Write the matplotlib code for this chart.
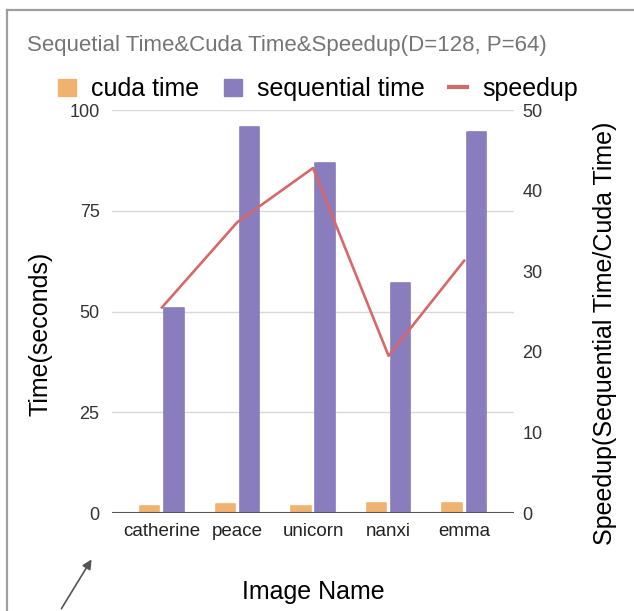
import matplotlib
matplotlib.use("Agg")
import matplotlib.pyplot as plt
from matplotlib.patches import Patch
from matplotlib.lines import Line2D

plt.rcParams['font.family'] = ['Liberation Sans', 'DejaVu Sans']

# data
images = ['catherine', 'peace', 'unicorn', 'nanxi', 'emma']
cuda_time = [1.8, 2.2, 1.8, 2.6, 2.6]
seq_time = [50.8, 95.7, 86.8, 57.1, 94.6]
speedup = [25.5, 36.1, 42.8, 19.5, 31.3]
time_ticks = [0, 25, 50, 75, 100]
speed_ticks = [0, 10, 20, 30, 40, 50]

c_cuda = '#F0B36F'
c_seq = '#8A7DBE'
c_speed = '#D6686A'

W, H = 634, 611
fig = plt.figure(figsize=(W / 100, H / 100), dpi=100)
ax = fig.add_axes([112 / W, 1 - 513 / H, 402 / W, 403 / H])
ax2 = ax.twinx()

x = list(range(len(images)))
bw = 0.255
off = 0.16
ax.bar([i - off for i in x], cuda_time, bw, color=c_cuda, edgecolor=c_cuda,
       linewidth=1.2, joinstyle='round', zorder=2)
ax.bar([i + off for i in x], seq_time, bw, color=c_seq, edgecolor=c_seq,
       linewidth=1.2, joinstyle='round', zorder=2)
ax.axhline(0, color='#555555', lw=1.5, zorder=3)

ax.set_xlim(-0.66, 4.66)
ax.set_ylim(0, 100)
ax.set_yticks(time_ticks)
ax.set_xticks(x)
ax.set_xticklabels(images)
ax.grid(axis='y', color='#d9d9d9', lw=1, zorder=0)
ax.set_axisbelow(True)
ax.tick_params(axis='y', length=0, pad=9, labelsize=13, labelcolor='#333333')
ax.tick_params(axis='x', length=0, pad=7, labelsize=13.5, labelcolor='#222222')

ax2.plot(x, speedup, color=c_speed, lw=1.9, zorder=4)
ax2.set_ylim(0, 50)
ax2.set_yticks(speed_ticks)
ax2.tick_params(axis='y', length=0, pad=6, labelsize=13, labelcolor='#333333')

for a in (ax, ax2):
    for s in a.spines.values():
        s.set_visible(False)

ax.set_ylabel('Time(seconds)', fontsize=18)
ax.yaxis.set_label_coords(-0.147, 0.445)
ax2.set_ylabel('Speedup(Sequential Time/Cuda Time)', fontsize=18)
ax2.yaxis.set_label_coords(1.196, 0.447)
ax.set_xlabel('Image Name', fontsize=18)
ax.xaxis.set_label_coords(0.5, -0.166)

fig.text(27 / W, 1 - 45 / H, 'Sequetial Time&Cuda Time&Speedup(D=128, P=64)',
         fontsize=16, color='#757575', ha='left', va='center')

handles = [Patch(color=c_cuda), Patch(color=c_seq),
           Line2D([], [], color=c_speed, lw=3)]
fig.legend(handles, ['cuda time', 'sequential time', 'speedup'],
           loc='center', bbox_to_anchor=(318 / W, 1 - 89 / H), ncol=3,
           frameon=False, fontsize=18, handlelength=0.7, handleheight=0.7,
           handletextpad=0.6, columnspacing=1.0, borderpad=0, borderaxespad=0)

# frame edges and arrow of the screenshot
fig.add_artist(Line2D([7 / W, 1], [1 - 10 / H, 1 - 10 / H], color='#9e9e9e', lw=1.6))
fig.add_artist(Line2D([7 / W, 7 / W], [0, 1 - 10 / H], color='#9e9e9e', lw=1.6))
fig.add_artist(matplotlib.patches.FancyArrowPatch(
    (60 / W, 0), (93 / W, 1 - 557 / H), transform=fig.transFigure,
    arrowstyle='-|>', mutation_scale=14, color='#555555', lw=1.2))

fig.savefig('out.png', dpi=100)
